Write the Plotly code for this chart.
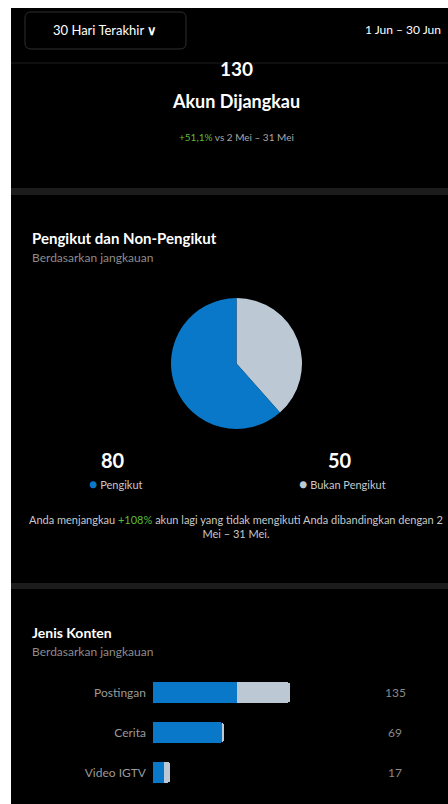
import plotly.graph_objects as go

W, H = 448, 804

# ---- data ----
reach_total = "130"
reach_change = "+51,1%"
pie_labels = ["Pengikut", "Bukan Pengikut"]
pie_values = [80, 50]
pie_colors = ["#0a78c8", "#bcc8d3"]
nonfollower_change = "+108%"
content_types = ["Postingan", "Cerita", "Video IGTV"]
followers = [83, 68, 11]
non_followers = [52, 1, 6]
totals = [135, 69, 17]

FONT = "Lato"
BG = "#000000"
SEP = "#1c1c1c"


def px(x):
    return x / W


def py(y):
    return 1 - y / H


fig = go.Figure()

# pie (non-followers first so the grey slice sits on the right from 12 o'clock)
fig.add_trace(go.Pie(
    labels=pie_labels[::-1], values=pie_values[::-1], sort=False, direction="clockwise", rotation=0,
    marker=dict(colors=pie_colors[::-1], line=dict(width=0)), textinfo="none",
    hoverinfo="label+value", showlegend=False,
    domain=dict(x=[px(171), px(302)], y=[py(429), py(298)]),
))

# stacked bars
fig.add_trace(go.Bar(
    y=content_types, x=followers, orientation="h", marker=dict(color=pie_colors[0], line=dict(width=0)),
    xaxis="x", yaxis="y", showlegend=False, name="Pengikut",
))
fig.add_trace(go.Bar(
    y=content_types, x=non_followers, orientation="h", marker=dict(color=pie_colors[1], line=dict(width=0)),
    xaxis="x", yaxis="y", showlegend=False, name="Bukan Pengikut",
))

shapes = [
    # black app background
    dict(type="rect", xref="paper", yref="paper", x0=px(11), x1=1, y0=0, y1=py(8),
         fillcolor=BG, line=dict(width=0), layer="below"),
    # faint header line
    dict(type="rect", xref="paper", yref="paper", x0=px(11), x1=1, y0=py(64), y1=py(62),
         fillcolor="#0f0f0f", line=dict(width=0), layer="below"),
    # separators
    dict(type="rect", xref="paper", yref="paper", x0=px(11), x1=1, y0=py(195), y1=py(188),
         fillcolor=SEP, line=dict(width=0), layer="below"),
    dict(type="rect", xref="paper", yref="paper", x0=px(11), x1=1, y0=py(589), y1=py(583),
         fillcolor=SEP, line=dict(width=0), layer="below"),
]

# rounded header button
x0, x1, y0, y1, r = 25, 186, 12, 49, 6
path = (f"M {px(x0+r)},{py(y0)} L {px(x1-r)},{py(y0)} Q {px(x1)},{py(y0)} {px(x1)},{py(y0+r)} "
        f"L {px(x1)},{py(y1-r)} Q {px(x1)},{py(y1)} {px(x1-r)},{py(y1)} "
        f"L {px(x0+r)},{py(y1)} Q {px(x0)},{py(y1)} {px(x0)},{py(y1-r)} "
        f"L {px(x0)},{py(y0+r)} Q {px(x0)},{py(y0)} {px(x0+r)},{py(y0)} Z")
shapes.append(dict(type="path", xref="paper", yref="paper", path=path,
                   line=dict(color="#2e2e2e", width=1), fillcolor=BG, layer="below"))

annotations = []


def ann(text, x, y, size=12, color="#ffffff", xanchor="center", bold=False):
    if bold:
        text = f"<b>{text}</b>"
    annotations.append(dict(text=text, x=px(x), y=py(y), xref="paper", yref="paper",
                            xanchor=xanchor, yanchor="middle", showarrow=False,
                            font=dict(family=FONT, size=size, color=color)))


ann("30 Hari Terakhir <b>∨</b>", 105, 30, size=13, color="#ffffff")
ann("1 Jun – 30 Jun", 443, 30, size=12, color="#ffffff", xanchor="right")
ann(reach_total, 236, 69, size=19, bold=True)
ann("Akun Dijangkau", 236, 101, size=18, bold=True)
ann(f"<span style='color:#5dbb3a'>{reach_change}</span> vs 2 Mei – 31 Mei", 236, 137, size=10, color="#a8a8a8")

ann("Pengikut dan Non-Pengikut", 30, 238, size=15, xanchor="left", bold=True)
ann("Berdasarkan jangkauan", 30, 258, size=12, color="#8c8c8c", xanchor="left")

ann(str(pie_values[0]), 113, 460, size=20, bold=True)
ann(str(pie_values[1]), 340, 460, size=20, bold=True)
ann(f"<span style='color:{pie_colors[0]};font-size:14px'>●</span> {pie_labels[0]}", 116, 483, size=11, color="#c8c8c8")
ann(f"<span style='color:{pie_colors[1]};font-size:14px'>●</span> {pie_labels[1]}", 342, 483, size=11, color="#c8c8c8")

annotations.append(dict(
    text=(f"Anda menjangkau <span style='color:#5dbb3a'>{nonfollower_change}</span> akun lagi yang tidak "
          "mengikuti Anda dibandingkan dengan 2<br>Mei – 31 Mei."),
    x=px(236), y=py(526), xref="paper", yref="paper", xanchor="center", yanchor="middle",
    showarrow=False, align="center", font=dict(family=FONT, size=11, color="#c8c8c8")))

ann("Jenis Konten", 30, 632, size=14, xanchor="left", bold=True)
ann("Berdasarkan jangkauan", 30, 651, size=12, color="#8c8c8c", xanchor="left")

for i, t in enumerate(totals):
    annotations.append(dict(text=str(t), x=px(395), y=content_types[i], xref="paper", yref="y",
                            xanchor="center", yanchor="middle", showarrow=False,
                            font=dict(family=FONT, size=12, color="#8a8a8a")))

fig.update_layout(
    width=W, height=H, margin=dict(l=0, r=0, t=0, b=0),
    paper_bgcolor="#ffffff", plot_bgcolor="rgba(0,0,0,0)",
    barmode="stack", bargap=0.475, barcornerradius=4,
    shapes=shapes, annotations=annotations,
    xaxis=dict(domain=[px(153), 1], range=[0, 290], visible=False, fixedrange=True),
    yaxis=dict(domain=[py(792.5), py(672.5)], categoryorder="array", categoryarray=content_types,
               autorange="reversed", showgrid=False, zeroline=False, showline=False, ticks="",
               ticklabelstandoff=6, tickfont=dict(family=FONT, size=12, color="#9a9a9a"),
               fixedrange=True),
    font=dict(family=FONT),
)

fig.write_html("out.html")
